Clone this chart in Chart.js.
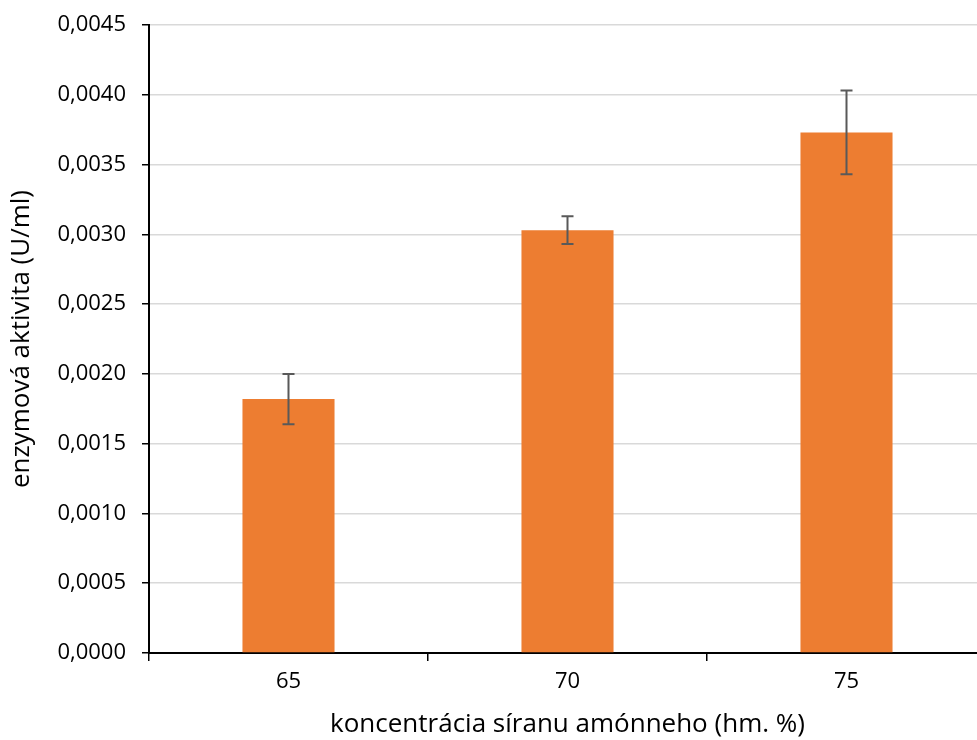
<!DOCTYPE html>
<html>
<head>
<meta charset="utf-8">
<script src="https://cdn.jsdelivr.net/npm/chart.js@4.4.1/dist/chart.umd.min.js"></script>
<style>
  html, body { margin: 0; padding: 0; background: #fff; overflow: hidden; }
  #wrap { width: 977px; height: 740px; overflow: hidden; position: relative; }
  canvas { display: block; }
</style>
</head>
<body>
<div id="wrap">
  <canvas id="chart" width="986" height="740"></canvas>
</div>
<script>
// ── Data ──
const categories = ['65', '70', '75'];
const activity   = [0.00182, 0.00303, 0.00373];
const errors     = [0.00018, 0.00010, 0.00030];

// ── Error bar plugin ──
const errorBars = {
  id: 'errorBars',
  afterDatasetsDraw(chart) {
    const { ctx, scales: { y } } = chart;
    const meta = chart.getDatasetMeta(0);
    ctx.save();
    ctx.strokeStyle = '#595959';
    ctx.lineWidth = 2;
    meta.data.forEach((bar, i) => {
      const top = y.getPixelForValue(activity[i] + errors[i]);
      const bot = y.getPixelForValue(activity[i] - errors[i]);
      ctx.beginPath();
      ctx.moveTo(bar.x, top); ctx.lineTo(bar.x, bot);
      ctx.moveTo(bar.x - 6, top); ctx.lineTo(bar.x + 6, top);
      ctx.moveTo(bar.x - 6, bot); ctx.lineTo(bar.x + 6, bot);
      ctx.stroke();
    });
    ctx.restore();
  }
};

Chart.defaults.font.family = "'Open Sans', sans-serif";
Chart.defaults.color = '#000';

new Chart(document.getElementById('chart'), {
  type: 'bar',
  data: {
    labels: categories,
    datasets: [{
      data: activity,
      backgroundColor: '#ED7D31',
      categoryPercentage: 1,
      barPercentage: 0.33,
    }]
  },
  options: {
    responsive: false,
    animation: false,
    layout: { padding: { top: 25, right: 0, left: 0, bottom: 0 } },
    plugins: {
      legend:  { display: false },
      tooltip: { enabled: false },
    },
    scales: {
      x: {
        afterFit: s => { s.height = 87; s.paddingLeft = 0; s.paddingRight = 0; },
        grid: { offset: true, drawOnChartArea: false, tickColor: '#000', tickLength: 8, lineWidth: 1.5 },
        border: { color: '#000', width: 2 },
        ticks: { font: { size: 22 }, padding: 8, color: '#000' },
        title: {
          display: true,
          text: 'koncentrácia síranu amónneho (hm. %)',
          font: { size: 26 },
          padding: { top: 0, bottom: 0 },
          color: '#000',
        },
      },
      y: {
        min: 0,
        max: 0.0045,
        afterFit: s => { s.width = 149; s.paddingTop = 0; s.paddingBottom = 0; },
        grid: { color: '#d9d9d9', lineWidth: 1.5, tickColor: '#000', tickLength: 7 },
        border: { color: '#000', width: 2 },
        ticks: {
          stepSize: 0.0005,
          font: { size: 22 },
          padding: 16,
          color: '#000',
          callback: v => v.toFixed(4).replace('.', ','),
        },
        title: {
          display: true,
          text: 'enzymová aktivita (U/ml)',
          font: { size: 26 },
          padding: { top: 6, bottom: 0 },
          color: '#000',
        },
      },
    },
  },
  plugins: [errorBars],
});
</script>
</body>
</html>
